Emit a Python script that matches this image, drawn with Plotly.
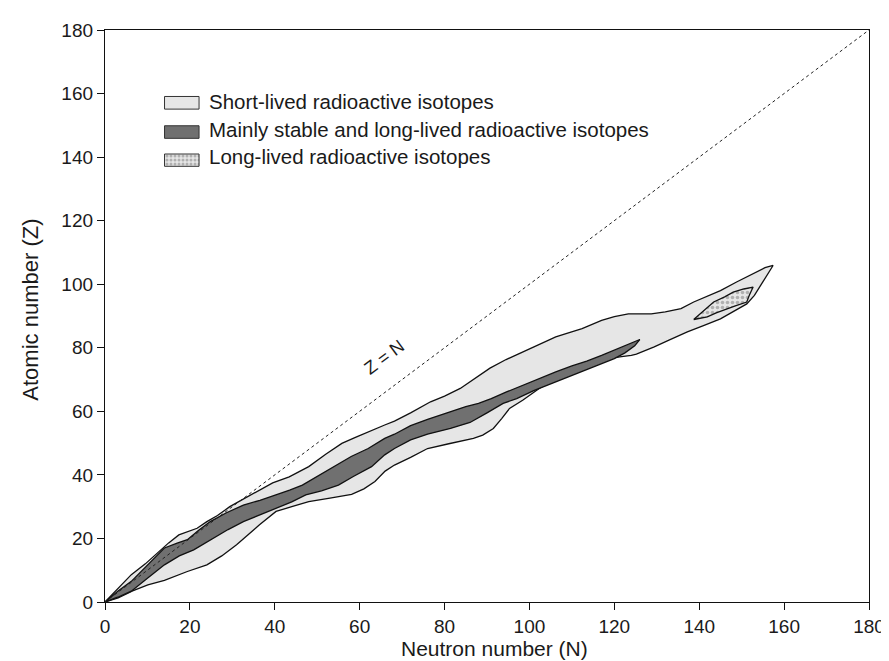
import plotly.graph_objects as go

# ---------------- data ----------------
short_upper_N = [0, 3, 6.2, 9.5, 12.8, 15, 17.4, 20, 21.7, 24, 26.5, 29.4, 32.5, 35.7, 39.5, 43.4, 48, 52, 55.8, 59, 62,
                 65.9, 68.2, 72, 76.7, 80, 83.7, 87, 90.7, 94.5, 98.4, 102, 106.2, 109, 112.4, 117, 120, 123.3, 126,
                 128.7, 132, 135.7, 138.7, 142, 145, 148.8, 152.7, 155.5, 157.4]
short_upper_Z = [0, 4.2, 8.6, 12, 15.9, 18.6, 21.1, 22.4, 23.2, 25.3, 27.2, 30, 32.3, 34.7, 37.5, 39.4, 42.6, 46.5, 49.9,
                 51.8, 53.6, 55.7, 56.9, 59.5, 63, 64.8, 67.2, 70.3, 73.6, 76.3, 78.7, 80.8, 83.4, 84.6, 86, 88.6, 89.8,
                 90.7, 90.7, 90.7, 91.3, 92.3, 94.4, 96.2, 98, 100.7, 103.3, 105.2, 105.9]
short_lower_N = [0, 1.5, 3.1, 6.5, 10.1, 14, 19.4, 24, 27.5, 31, 33.8, 36.4, 40.3, 44, 48, 53, 58.1, 61, 63.6, 66, 68.2,
                 72, 76, 81, 86.8, 89, 91.5, 93.5, 95.3, 98.4, 102.3, 106, 109.3, 113, 117, 121.7, 124, 125.2, 129.4,
                 133, 137.2, 141, 145, 148, 151.2, 153, 154.3, 156, 157.4]
short_lower_Z = [0, 0.6, 1.3, 3.5, 5.4, 6.8, 9.6, 11.7, 14.5, 18, 21.2, 24.3, 28.5, 30, 31.6, 32.7, 33.9, 35.6, 37.9,
                 41.2, 43.1, 45.5, 48.3, 49.8, 51.5, 52.5, 54.6, 57.8, 60.9, 63.5, 67.2, 70.2, 72.4, 74.5, 76.3, 77.2,
                 77.6, 78.0, 80.3, 82.5, 85, 87, 89.1, 91.3, 93.8, 96.5, 99.6, 103, 105.9]

stable_upper_N = [0, 3, 6.2, 10, 14, 17, 19.4, 22, 24.8, 28.5, 32.6, 36.5, 40.3, 43.5, 46.5, 50.5, 54.3, 58, 62, 65.9,
                  68.2, 72, 76, 81.4, 85, 88, 91, 94.6, 98, 102, 106.2, 110, 113.5, 117, 120, 123, 126]
stable_upper_Z = [0, 3.4, 6.5, 11.5, 17, 18.5, 19.6, 22.5, 25.3, 28, 30.5, 32, 33.7, 35.2, 36.8, 40, 43.1, 45.8, 48.3,
                  51.5, 52.8, 55.5, 57.5, 59.8, 61.5, 62.5, 64, 66.1, 68, 70.3, 72.4, 74.3, 75.8, 77.6, 79.3, 81.1, 82.6]
stable_lower_N = [0, 3, 6.2, 10, 14, 17.5, 20.9, 23, 25.6, 29, 32.6, 36.5, 40.3, 44, 47.3, 51, 55, 58.5, 62.8, 65.9,
                  68.2, 72, 76, 81.4, 86, 90, 93.8, 97, 101, 106.2, 110, 113.5, 117, 120, 122.5, 124.8, 126]
stable_lower_Z = [0, 1.5, 3.4, 7.5, 11.7, 14.5, 16.4, 18.3, 20.1, 22.8, 25.3, 27.5, 29.5, 31.5, 33.7, 35, 36.8, 39.5,
                  42.6, 46.3, 48.3, 51, 52.8, 54.6, 56.5, 59.5, 62.5, 64, 66.5, 69.3, 71.2, 73, 75, 76.6, 78.4, 80.6,
                  82.6]

long_N = [138.7, 141, 143.4, 146, 148, 150.5, 152.7, 151.8, 151.2, 148.5, 146.5, 144, 141.9, 138.7]
long_Z = [88.9, 91.5, 94.4, 96, 97.5, 98.5, 99.1, 96.5, 94.4, 93.2, 92.3, 91, 89.7, 88.9]

diag_N = [0, 180]
diag_Z = [0, 180]

ticks = [0, 20, 40, 60, 80, 100, 120, 140, 160, 180]
legend_labels = ["Short-lived radioactive isotopes",
                 "Mainly stable and long-lived radioactive isotopes",
                 "Long-lived radioactive isotopes"]

# ---------------- styles ----------------
FONT = "Liberation Sans, Arial, Helvetica, sans-serif"
LIGHT = "#e6e6e6"
DARK = "#707070"
EDGE = "#111111"
TXT = "#1a1a1a"

fig = go.Figure()

fig.add_trace(go.Scatter(
    x=short_upper_N + short_lower_N[::-1], y=short_upper_Z + short_lower_Z[::-1],
    mode="lines", fill="toself", fillcolor=LIGHT, line=dict(color=EDGE, width=1.3),
    name=legend_labels[0], showlegend=False, hoverinfo="skip"))

fig.add_trace(go.Scatter(
    x=stable_upper_N + stable_lower_N[::-1], y=stable_upper_Z + stable_lower_Z[::-1],
    mode="lines", fill="toself", fillcolor=DARK, line=dict(color=EDGE, width=1.3),
    name=legend_labels[1], showlegend=False, hoverinfo="skip"))

fig.add_trace(go.Scatter(
    x=long_N, y=long_Z, mode="lines", fill="toself", fillcolor=LIGHT,
    fillpattern=dict(shape=".", fgcolor="#7a7a7a", bgcolor=LIGHT, size=5, solidity=0.4),
    line=dict(color=EDGE, width=1.3),
    name=legend_labels[2], showlegend=False, hoverinfo="skip"))

fig.add_trace(go.Scatter(
    x=diag_N, y=diag_Z, mode="lines", line=dict(color="#222222", width=1, dash="3px,3px"),
    showlegend=False, hoverinfo="skip"))

# ---------------- manual legend (paper-referenced overlay axis) ----------------
box_x0, box_x1 = 0.0779, 0.1231
box_rows = [(0.8838, 0.8617), (0.8326, 0.8106), (0.7832, 0.7617)]
text_y = [0.8752, 0.8262, 0.7782]
fills = [LIGHT, DARK, LIGHT]
for i, (top, bot) in enumerate(box_rows):
    kw = {}
    if i == 2:
        kw["fillpattern"] = dict(shape=".", fgcolor="#7a7a7a", bgcolor=LIGHT, size=4, solidity=0.45)
    fig.add_trace(go.Scatter(
        x=[box_x0, box_x1, box_x1, box_x0, box_x0], y=[top, top, bot, bot, top],
        xaxis="x2", yaxis="y2", mode="lines", fill="toself", fillcolor=fills[i],
        line=dict(color="#333333", width=1), showlegend=False, hoverinfo="skip", **kw))
    fig.add_annotation(x=0.1335, y=text_y[i], xref="paper", yref="paper", text=legend_labels[i],
                       showarrow=False, xanchor="left", yanchor="middle",
                       font=dict(family=FONT, size=20.5, color=TXT))

# Z = N label
fig.add_annotation(x=65.9, y=77.1, xref="x", yref="y", text="Z = N", showarrow=False,
                   textangle=-36.5, font=dict(family=FONT, size=18, color=TXT))

# axis titles
fig.add_annotation(x=0.5094, y=-0.0815, xref="paper", yref="paper", text="Neutron number (N)",
                   showarrow=False, xanchor="center", yanchor="middle",
                   font=dict(family=FONT, size=21, color=TXT))
fig.add_annotation(x=-0.0969, y=0.511, xref="paper", yref="paper", text="Atomic number (Z)",
                   showarrow=False, textangle=-90, xanchor="center", yanchor="middle",
                   font=dict(family=FONT, size=22, color=TXT))

axis_common = dict(range=[0, 180], tickvals=ticks, ticks="outside", ticklen=7, tickwidth=1.2,
                   tickcolor="#111111", showline=True, linecolor="#111111", linewidth=1.3, mirror=True,
                   showgrid=False, zeroline=False,
                   tickfont=dict(family=FONT, size=19, color=TXT))

fig.update_layout(
    width=889, height=661,
    margin=dict(l=97, r=18, t=21, b=67),
    paper_bgcolor="white", plot_bgcolor="white",
    showlegend=False,
    xaxis=dict(**axis_common),
    yaxis=dict(**axis_common),
    xaxis2=dict(range=[0, 1], overlaying="x", visible=False, fixedrange=True),
    yaxis2=dict(range=[0, 1], overlaying="y", visible=False, fixedrange=True),
)

fig.write_html("out.html")
